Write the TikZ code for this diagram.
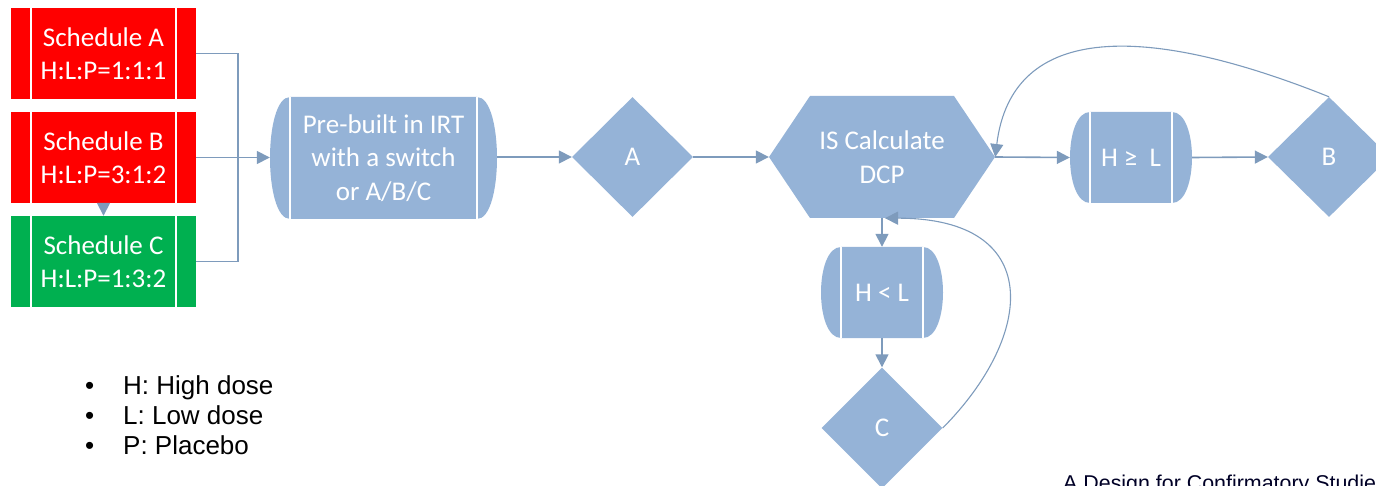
\documentclass[tikz,border=0pt]{standalone}
\usepackage{fontspec}
\usetikzlibrary{arrows.meta,shapes.geometric}
\newfontfamily\calfont{Carlito}
\newfontfamily\arfont{Liberation Sans}
\definecolor{boxblue}{RGB}{149,179,215}
\definecolor{linkblue}{RGB}{126,155,188}
\definecolor{schedred}{RGB}{255,0,0}
\definecolor{schedgreen}{RGB}{0,176,80}
\tikzset{
  shapetext/.style={text=white, font=\calfont\fontsize{27}{33.5}\selectfont,
    align=center, inner sep=0pt},
  sidebars/.style={path picture={
      \draw[white, line width=2pt]
        ([xshift=20pt]path picture bounding box.north west) --
        ([xshift=20pt]path picture bounding box.south west)
        ([xshift=-20pt]path picture bounding box.north east) --
        ([xshift=-20pt]path picture bounding box.south east);}},
  schedbox/.style={shapetext, rectangle, minimum width=185pt, minimum height=91pt,
    fill=#1, sidebars},
  predef/.style={shapetext, rectangle, path picture={
      \fill[boxblue]
        ([xshift=20pt]path picture bounding box.north west) --
        ([xshift=-20pt]path picture bounding box.north east)
        .. controls ([xshift=6.667pt]path picture bounding box.north east)
           and ([xshift=6.667pt]path picture bounding box.south east) ..
        ([xshift=-20pt]path picture bounding box.south east) --
        ([xshift=20pt]path picture bounding box.south west)
        .. controls ([xshift=-6.667pt]path picture bounding box.south west)
           and ([xshift=-6.667pt]path picture bounding box.north west) .. cycle;
      \draw[white, line width=2pt]
        ([xshift=20pt]path picture bounding box.north west) --
        ([xshift=20pt]path picture bounding box.south west)
        ([xshift=-20pt]path picture bounding box.north east) --
        ([xshift=-20pt]path picture bounding box.south east);}},
  hexbox/.style={shapetext, rectangle, path picture={
      \fill[boxblue]
        (path picture bounding box.west) --
        ([xshift=41pt]path picture bounding box.north west) --
        ([xshift=-41pt]path picture bounding box.north east) --
        (path picture bounding box.east) --
        ([xshift=-41pt]path picture bounding box.south east) --
        ([xshift=41pt]path picture bounding box.south west) -- cycle;}},
  decision/.style={shapetext, diamond, fill=boxblue, minimum width=121pt,
    minimum height=120pt},
  link/.style={draw=linkblue, line width=1.6pt},
  arrowlink/.style={link, -{Triangle[length=13pt,width=13pt]}},
  looplink/.style={draw=linkblue, line width=1.1pt, -{Triangle[length=13pt,width=13pt]}},
  legend/.style={font=\arfont\fontsize{26}{30}\selectfont, inner sep=0pt, text=black,
    anchor=base west},
}
\begin{document}
\begin{tikzpicture}[x=1pt, y=-1pt]
\useasboundingbox (0,0) rectangle (1376,486);
\clip (0,0) rectangle (1376,486);

% schedules
\node[schedbox=schedred]   (schA) at (103.5,53.5)  {Schedule A\\H:L:P=1:1:1};
\node[schedbox=schedred]   (schB) at (103.5,157.5) {Schedule B\\H:L:P=3:1:2};
\node[schedbox=schedgreen] (schC) at (103.5,261.5) {Schedule C\\H:L:P=1:3:2};

% main flow
\node[predef, minimum width=227pt, minimum height=122pt] (pre) at (383.5,158)
  {Pre-built in IRT\\with a switch\\or A/B/C};
\node[decision] (decA) at (632.5,157) {A};
\node[hexbox, minimum width=226pt, minimum height=122pt] (calc) at (882,157)
  {IS Calculate\\DCP};
\node[predef, minimum width=122pt, minimum height=91pt] (hge) at (1131,157.5)
  {H ≥~ L};
\node[decision, minimum width=122pt] (decB) at (1329,157) {B};
\node[predef, minimum width=122pt, minimum height=91pt] (hlt) at (882,292.5)
  {H < L};
\node[decision, minimum height=121pt] (decC) at (882,428) {C};

% connectors
\coordinate (bus) at (238,157.5);
\draw[link] (schA.east) -| (bus) |- (schC.east);
\draw[arrowlink] (schB.east) -- (pre.west |- schB.east);
\draw[arrowlink] (schB.south) -- (schC.north);
\draw[arrowlink] (pre.east |- decA.west) -- (decA.west);
\draw[arrowlink] (decA.east) -- (calc.west);
\draw[arrowlink] (calc.east) -- (hge.west);
\draw[arrowlink] (hge.east) -- (decB.west);
\draw[arrowlink] (calc.south) -- (hlt.north);
\draw[arrowlink] (hlt.south) -- (decC.north);
\draw[looplink] (decB.north) .. controls (1150,25) and (1012,20) .. (calc.east);
\draw[looplink] (decC.east) .. controls (1035,335) and (1045,218) .. ([xshift=3pt]calc.south);

% legend, bullet and text on a common baseline
\node[legend] (b1) at (85,394) {•};
\node[legend] (b2) at (85,424) {•};
\node[legend] (b3) at (85,454) {•};
\node[legend] (l1) at (123,394) {H: High dose};
\node[legend] (l2) at (123,424) {L: Low dose};
\node[legend] (l3) at (123,454) {P: Placebo};

% footer, running off the lower edge
\node[font=\arfont\fontsize{21.4}{25}\selectfont, text=black!85!blue, inner sep=0pt,
  anchor=base west] (foot) at (1063,490.5) {A Design for Confirmatory Studies};
\end{tikzpicture}
\end{document}
